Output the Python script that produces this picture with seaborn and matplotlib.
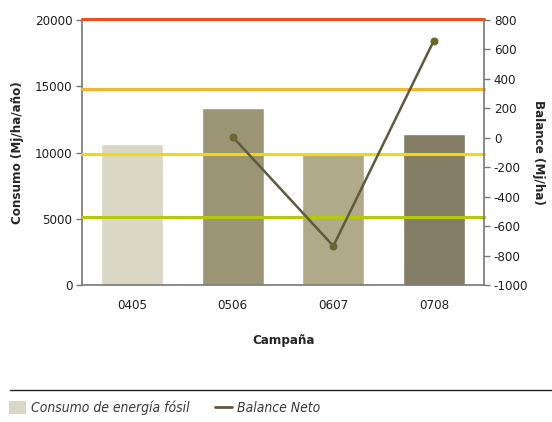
import numpy as np
import pandas as pd
import matplotlib
matplotlib.use("Agg")
import matplotlib.pyplot as plt
from matplotlib.lines import Line2D
from matplotlib.patches import Patch
import seaborn as sns

# data
campanas = ["0405", "0506", "0607", "0708"]
consumo = [10650, 13350, 9850, 11400]
balance = [np.nan, 5, -735, 660]
bar_colors = ["#dad8c5", "#9c9575", "#b1aa8a", "#857e66"]
ref_values = [20050, 14770, 9880, 5150]
ref_colors = ["#e8501e", "#f6b52e", "#f5d80a", "#b5c80a"]

sns.set_style("white")
plt.rcParams["font.family"] = ["DejaVu Sans"]
plt.rcParams["font.stretch"] = "condensed"
plt.rcParams["axes.unicode_minus"] = False
plt.rcParams["text.color"] = "#231f20"
plt.rcParams["xtick.color"] = "#231f20"
plt.rcParams["ytick.color"] = "#231f20"

df = pd.DataFrame({"campana": campanas, "consumo": consumo, "balance": balance})
df["pos"] = np.arange(len(df))

fig = plt.figure(figsize=(5.52, 4.22), dpi=100)
ax = fig.add_axes([0.1486, 0.3246, 0.7284, 0.628])

sns.barplot(data=df, x="campana", y="consumo", hue="campana", palette=bar_colors,
            legend=False, width=0.62, saturation=1, ax=ax, zorder=2)
for v, c in zip(ref_values, ref_colors):
    ax.axhline(v, color=c, lw=2.2, zorder=3, clip_on=False)

ax.set_ylim(0, 20000)
ax.set_xlim(-0.5, len(campanas) - 0.5)
ax.set_yticks([0, 5000, 10000, 15000, 20000])
ax.set_xticks(df["pos"])
ax.set_xticklabels(campanas)
ax.set_xticks(np.arange(-0.5, len(campanas)), minor=True)
ax.tick_params(axis="x", which="major", length=0, pad=10, labelsize=9.5)
ax.tick_params(axis="x", which="minor", length=4, color="#777777", width=1)
ax.tick_params(axis="y", length=4, color="#777777", width=1, labelsize=9.5, left=True, pad=3)
ax.set_xlabel("Campaña", fontweight="bold", fontsize=9.5, labelpad=16)
ax.set_ylabel("Consumo (Mj/ha/año)", fontweight="bold", fontsize=9.5, labelpad=8)
for s in ["top", "right"]:
    ax.spines[s].set_visible(False)
for s in ["left", "bottom"]:
    ax.spines[s].set_color("#777777")
    ax.spines[s].set_linewidth(1.2)

ax2 = ax.twinx()
sns.lineplot(data=df.dropna(), x="pos", y="balance", color="#5e5a40", lw=1.8,
             marker="o", markersize=5, markerfacecolor="#6b6530",
             markeredgecolor="#6b6530", ax=ax2, zorder=4)
ax2.set_ylim(-1000, 800)
ax2.set_yticks(np.arange(-1000, 801, 200))
ax2.tick_params(axis="y", length=4, color="#777777", width=1, labelsize=9.5, right=True, pad=3)
ax2.set_ylabel("Balance (Mj/ha)", fontweight="bold", fontsize=9.5, rotation=270, labelpad=12)
ax2.set_xlabel("")
for s in ["top", "left", "bottom"]:
    ax2.spines[s].set_visible(False)
ax2.spines["right"].set_color("#777777")
ax2.spines["right"].set_linewidth(1.2)

# separator and legend
fig.add_artist(Line2D([0.018, 1.0], [0.076, 0.076], color="#231f20", lw=1))
handles = [Patch(facecolor=bar_colors[0], edgecolor="none"),
           Line2D([0], [0], color="#5e5a40", lw=2)]
fig.legend(handles, ["Consumo de energía fósil", "Balance Neto"], loc="center left",
           bbox_to_anchor=(-0.006, 0.033), ncol=2, frameon=False,
           prop={"style": "italic", "size": 10}, handlelength=1.2, handleheight=1.1,
           columnspacing=1.8, handletextpad=0.4, labelcolor="#3a3a3a")

fig.savefig("out.png", dpi=100)
